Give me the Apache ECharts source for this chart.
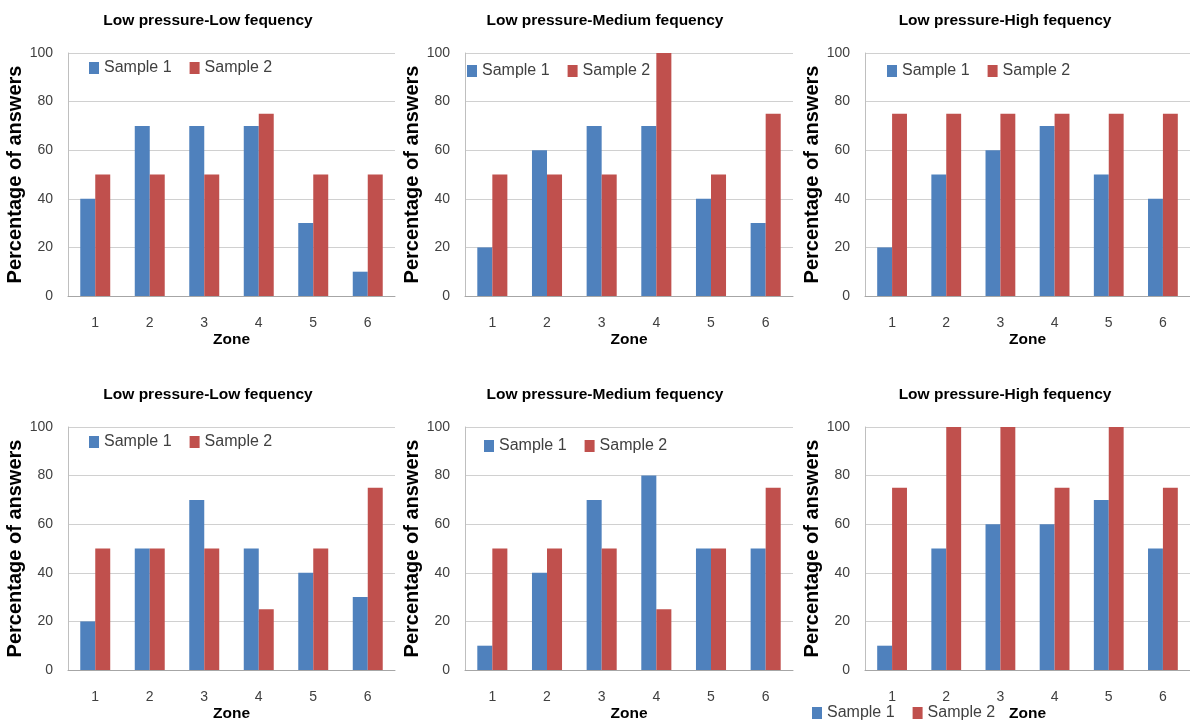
<!DOCTYPE html>
<html>
<head>
<meta charset="utf-8">
<script src="https://cdn.jsdelivr.net/npm/echarts@6/dist/echarts.min.js"></script>
<style>
html,body{margin:0;padding:0;background:#fff;}
#chart{width:1190px;height:725px;}
</style>
</head>
<body>
<div id="chart"></div>
<script>
// ---- data ----
const zones = ['1','2','3','4','5','6'];
const seriesNames = ['Sample 1', 'Sample 2'];
const panelTitles = [
  'Low pressure-Low fequency',
  'Low pressure-Medium fequency',
  'Low pressure-High fequency',
  'Low pressure-Low fequency',
  'Low pressure-Medium fequency',
  'Low pressure-High fequency'
];
const p1Sample1 = [40, 70, 70, 70, 30, 10];
const p1Sample2 = [50, 50, 50, 75, 50, 50];
const p2Sample1 = [20, 60, 70, 70, 40, 30];
const p2Sample2 = [50, 50, 50, 100, 50, 75];
const p3Sample1 = [20, 50, 60, 70, 50, 40];
const p3Sample2 = [75, 75, 75, 75, 75, 75];
const p4Sample1 = [20, 50, 70, 50, 40, 30];
const p4Sample2 = [50, 50, 50, 25, 50, 75];
const p5Sample1 = [10, 40, 70, 80, 50, 50];
const p5Sample2 = [50, 50, 50, 25, 50, 75];
const p6Sample1 = [10, 50, 60, 60, 70, 50];
const p6Sample2 = [75, 100, 100, 75, 100, 75];
const yTicks = { min: 0, max: 100, interval: 20 };
const yAxisName = 'Percentage of answers';
const xAxisName = 'Zone';

const panelData = [
  [p1Sample1, p1Sample2], [p2Sample1, p2Sample2], [p3Sample1, p3Sample2],
  [p4Sample1, p4Sample2], [p5Sample1, p5Sample2], [p6Sample1, p6Sample2]
];

// ---- layout ----
const colLeft = [68, 465, 865];
const colWidth = [327, 328, 328];
const rowTop = [53, 427];
const plotHeight = 243;
const titleCenterX = [203, 600, 1000];
const titleTop = [8, 382];
const legendPos = [
  {left: 89, top: 60}, {left: 467, top: 63}, {left: 887, top: 63},
  {left: 89, top: 434}, {left: 484, top: 438}, {left: 812, top: 705}
];
const colors = ['#4F81BD', '#C0504D'];
const FONT = '"Liberation Sans", Arial, sans-serif';

const grids = [], xAxes = [], yAxes = [], titles = [], legends = [], series = [];
for (let i = 0; i < 6; i++) {
  const r = Math.floor(i / 3), c = i % 3;
  grids.push({ left: colLeft[c], top: rowTop[r], width: colWidth[c], height: plotHeight });
  titles.push({
    text: panelTitles[i], left: titleCenterX[c], top: titleTop[r], textAlign: 'center',
    textStyle: { fontFamily: FONT, fontSize: 15.5, fontWeight: 'bold', color: '#000' }
  });
  xAxes.push({
    type: 'category', gridIndex: i, data: zones,
    name: xAxisName, nameLocation: 'middle', nameGap: 36,
    nameTextStyle: { fontFamily: FONT, fontSize: 15.5, fontWeight: 'bold', color: '#000' },
    axisLine: { show: true, lineStyle: { color: '#A6A6A6', width: 1 } },
    axisTick: { show: false },
    axisLabel: { fontFamily: FONT, fontSize: 14, color: '#404040', margin: 20 },
    splitLine: { show: false }
  });
  yAxes.push({
    type: 'value', gridIndex: i, min: yTicks.min, max: yTicks.max, interval: yTicks.interval,
    name: yAxisName, nameLocation: 'middle', nameGap: 38,
    nameTextStyle: { fontFamily: FONT, fontSize: 20, fontWeight: 'bold', color: '#000' },
    axisLine: { show: true, lineStyle: { color: '#BFBFBF', width: 1 } },
    axisTick: { show: false },
    axisLabel: { fontFamily: FONT, fontSize: 14, color: '#404040', margin: 15 },
    splitLine: { show: true, lineStyle: { color: '#D0D0D0', width: 1 } }
  });
  legends.push({
    left: legendPos[i].left, top: legendPos[i].top, padding: 0,
    orient: 'horizontal', data: seriesNames, icon: 'rect',
    itemWidth: 10, itemHeight: 12, itemGap: 18,
    textStyle: { fontFamily: FONT, fontSize: 16, color: '#404040' }
  });
  for (let s = 0; s < 2; s++) {
    series.push({
      type: 'bar', name: seriesNames[s], xAxisIndex: i, yAxisIndex: i,
      data: panelData[i][s], barGap: '0%', barCategoryGap: '45%',
      itemStyle: { color: colors[s] }, animation: false
    });
  }
}

const chart = echarts.init(document.getElementById('chart'), null, { renderer: 'canvas' });
chart.setOption({
  backgroundColor: '#fff',
  animation: false,
  color: colors,
  title: titles,
  grid: grids,
  xAxis: xAxes,
  yAxis: yAxes,
  legend: legends,
  series: series
});
</script>
</body>
</html>
